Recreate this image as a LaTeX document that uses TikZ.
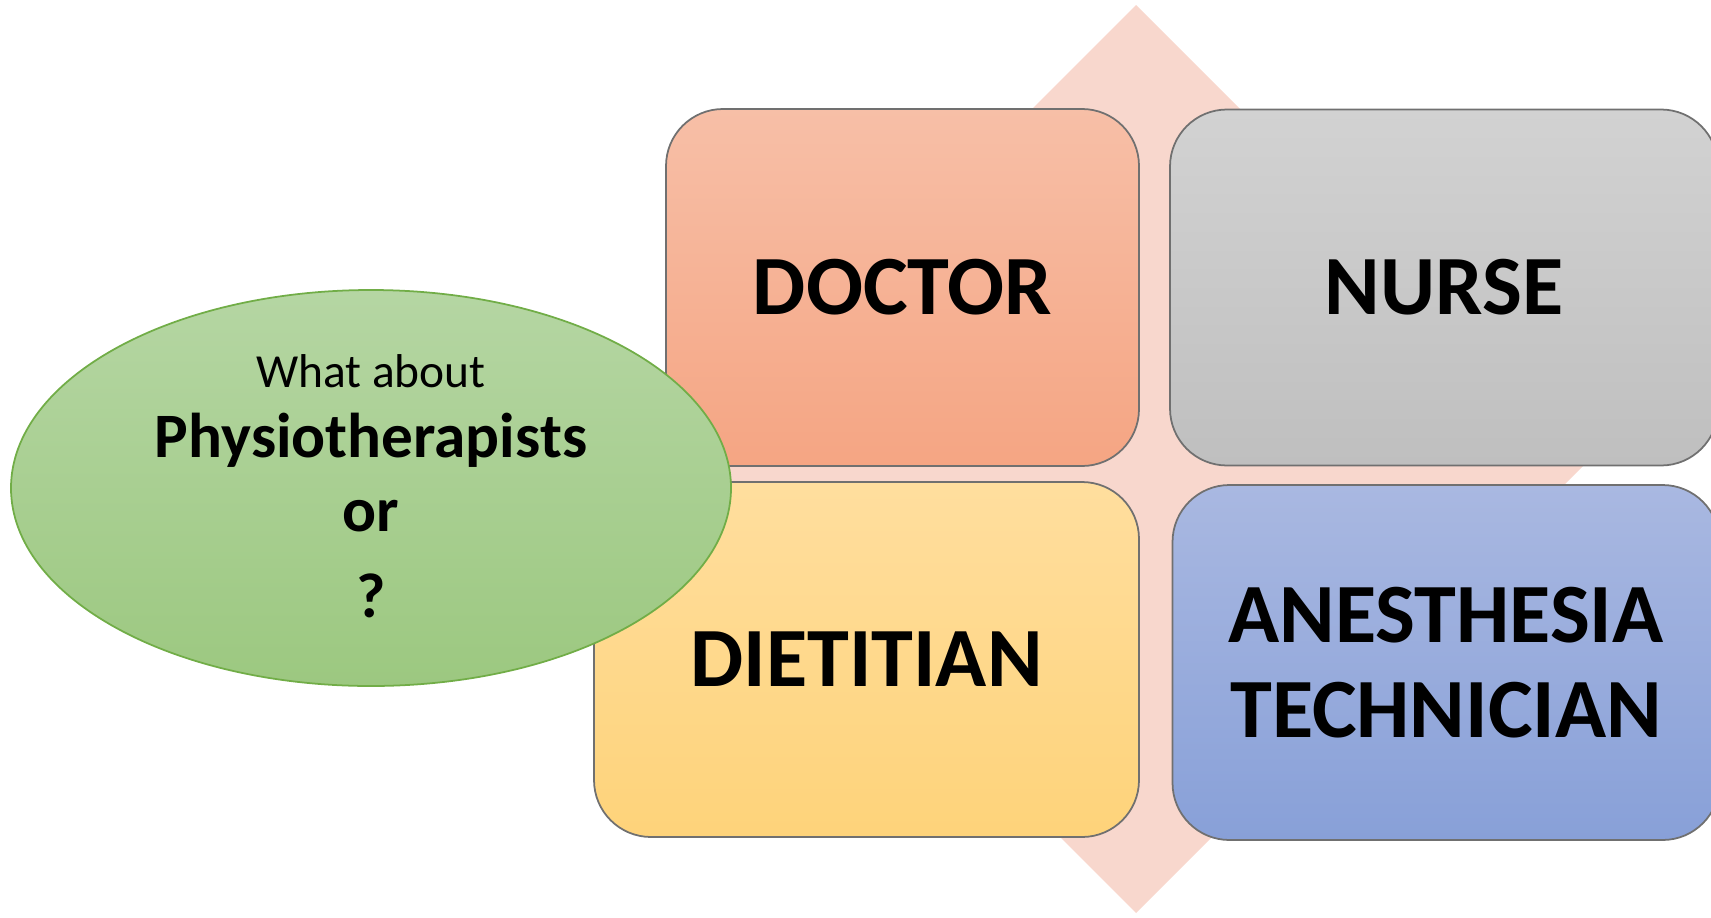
\documentclass[tikz,border=0pt]{standalone}
\usepackage{fontspec}
\setmainfont{Carlito}
\usetikzlibrary{shapes.geometric}

\definecolor{diamondpink}{HTML}{F8D7CD}
\definecolor{boxgray}{HTML}{707070}
\definecolor{doctop}{HTML}{F7BFA7}
\definecolor{docbot}{HTML}{F5A583}
\definecolor{nursetop}{HTML}{D2D2D2}
\definecolor{nursebot}{HTML}{BFBFBF}
\definecolor{diettop}{HTML}{FFDE9E}
\definecolor{dietbot}{HTML}{FED37A}
\definecolor{anestop}{HTML}{A9B8E1}
\definecolor{anesbot}{HTML}{88A0D8}
\definecolor{bubbletop}{HTML}{B5D6A3}
\definecolor{bubblebot}{HTML}{9CC880}
\definecolor{bubbleline}{HTML}{71AD47}

\begin{document}
\begin{tikzpicture}[x=0.1mm,y=-0.1mm,
  job/.style={draw=boxgray, line width=0.5pt, rounded corners=5.7mm, inner sep=0pt,
    align=center, font=\fontsize{24}{27}\selectfont\bfseries},
  bubble/.style={ellipse, draw=bubbleline, line width=0.5pt, top color=bubbletop,
    bottom color=bubblebot, minimum width=72mm, minimum height=39.6mm, inner sep=0pt}]
\useasboundingbox (0,0) rectangle (1711,917);
\clip (0,0) rectangle (1711,917);
\fill [diamondpink] (1136,5) -- (1590,459) -- (1136,913) -- (682,459) -- cycle;
\node [job, top color=doctop, bottom color=docbot, minimum width=47.3mm, minimum height=35.7mm] (doctor) at (902.5,287.5) {DOCTOR};
\node [job, top color=nursetop, bottom color=nursebot, minimum width=54.8mm, minimum height=35.6mm] (nurse) at (1444,287.5) {NURSE};
\node [job, top color=diettop, bottom color=dietbot, minimum width=54.5mm, minimum height=35.5mm] (dietitian) at (866.5,659.5) {DIETITIAN};
\node [job, top color=anestop, bottom color=anesbot, minimum width=54.7mm, minimum height=35.5mm] (anesthesia) at (1446,662.5) {ANESTHESIA\\TECHNICIAN};
\node [bubble] (ask) at (371,488) {};
\node [align=center, inner sep=0pt, font=\fontsize{18}{21}\selectfont\bfseries] (asktext) at (371,486)
  {{\fontsize{13.5}{16}\selectfont\mdseries What about}\\[-1pt] Physiotherapists\\ or\\[3.5pt] ?};
\end{tikzpicture}
\end{document}
